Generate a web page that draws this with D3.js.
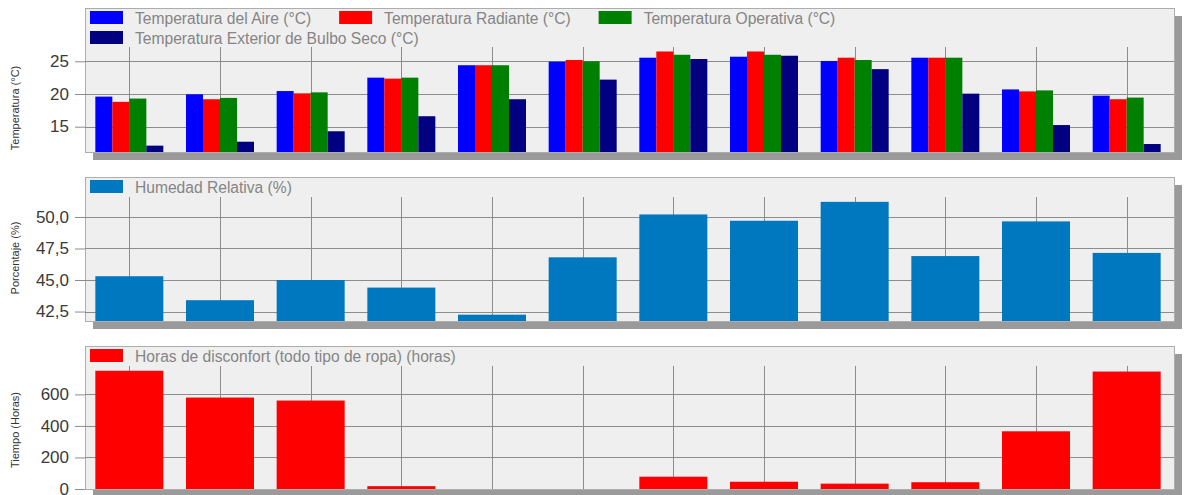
<!DOCTYPE html>
<html>
<head>
<meta charset="utf-8">
<script src="https://cdn.jsdelivr.net/npm/d3@7"></script>
<style>
  body { margin: 0; background: #fff; }
  svg { display: block; font-family: "Liberation Sans", Arial, sans-serif; }
</style>
</head>
<body>
<script>
// months (no x labels are shown in the original)
var months = ["Ene", "Feb", "Mar", "Abr", "May", "Jun", "Jul", "Ago", "Sep", "Oct", "Nov", "Dic"];

// panel 1 - temperatures (°C)
var tempAire      = [19.6, 19.95, 20.45, 22.5, 24.4, 24.95, 25.55, 25.7, 25.05, 25.55, 20.7, 19.75];
var tempRadiante  = [18.8, 19.2, 20.1, 22.35, 24.4, 25.2, 26.5, 26.5, 25.55, 25.55, 20.4, 19.2];
var tempOperativa = [19.3, 19.4, 20.25, 22.5, 24.4, 25.0, 26.0, 26.0, 25.2, 25.55, 20.55, 19.45];
var tempExterior  = [12.1, 12.7, 14.3, 16.6, 19.2, 22.2, 25.35, 25.85, 23.8, 20.05, 15.25, 12.35];
var tempTicks = [15, 20, 25];

// panel 2 - relative humidity (%)
var humedad = [45.3, 43.4, 45.0, 44.4, 42.25, 46.8, 50.2, 49.7, 51.2, 46.9, 49.65, 47.15];
var humTicks = [42.5, 45.0, 47.5, 50.0];

// panel 3 - discomfort hours
var horasDisconfort = [750, 580, 561, 18, 0, 0, 78, 46, 34, 43, 366, 745];
var horasTicks = [0, 200, 400, 600];

var W = 1187, H = 495;
var left = 85, right = 1174;

var svg = d3.select("body").append("svg")
    .attr("width", W)
    .attr("height", H);

var x0 = d3.scaleBand()
    .domain(months)
    .range([84, 1172])
    .paddingInner(0.25)
    .paddingOuter(0.125);

var commaFmt = d3.formatLocale({decimal: ",", thousands: ".", grouping: [3], currency: ["", ""]}).format(".1f");

function drawPanel(p) {
    var g = svg.append("g");
    var y = d3.scaleLinear().domain(p.domain).range([p.bottom, p.top]);

    // shadow + frame
    g.append("rect")
        .attr("x", left + 8).attr("y", p.top + 8)
        .attr("width", right - left).attr("height", p.bottom - p.top)
        .attr("fill", "#9a9a9a");
    g.append("rect")
        .attr("x", left + 0.5).attr("y", p.top + 0.5)
        .attr("width", right - left).attr("height", p.bottom - p.top)
        .attr("fill", "#efefef")
        .attr("stroke", "#adadad")
        .attr("stroke-width", 1);

    // horizontal grid
    g.selectAll(".hgrid")
        .data(p.ticks.filter(function (t) { return y(t) < p.bottom - 1; }))
        .enter().append("line")
        .attr("x1", left).attr("x2", right)
        .attr("y1", function (d) { return Math.round(y(d)) + 0.5; })
        .attr("y2", function (d) { return Math.round(y(d)) + 0.5; })
        .attr("stroke", "#8c8c8c");

    // vertical grid at category centers
    g.selectAll(".vgrid")
        .data(months)
        .enter().append("line")
        .attr("x1", function (d) { return Math.round(x0(d) + x0.bandwidth() / 2) + 0.5; })
        .attr("x2", function (d) { return Math.round(x0(d) + x0.bandwidth() / 2) + 0.5; })
        .attr("y1", p.gridTop).attr("y2", p.bottom)
        .attr("stroke", "#8c8c8c");

    // y axis
    var axis = d3.axisLeft(y).tickValues(p.ticks).tickSize(10).tickPadding(6);
    if (p.format) axis.tickFormat(p.format);
    var ax = g.append("g")
        .attr("transform", "translate(" + left + ",0)")
        .call(axis);
    ax.select(".domain").remove();
    ax.selectAll(".tick line").attr("stroke", "#8c8c8c");
    ax.selectAll(".tick text")
        .attr("fill", "#3a3a3a")
        .attr("dy", "0.3em")
        .style("font-size", "17px");

    // y title
    g.append("text")
        .attr("transform", "translate(19," + p.titleY + ") rotate(-90)")
        .attr("text-anchor", "middle")
        .attr("fill", "#333")
        .style("font-size", "11px")
        .text(p.title);

    // bars
    var x1 = d3.scaleBand()
        .domain(d3.range(p.series.length))
        .range([0, x0.bandwidth()]);

    p.series.forEach(function (s, si) {
        g.selectAll(".bar" + si)
            .data(s.values)
            .enter().append("rect")
            .attr("x", function (d, i) { return x0(months[i]) + x1(si); })
            .attr("width", x1.bandwidth())
            .attr("y", function (d) { return y(Math.max(d, p.domain[0])); })
            .attr("height", function (d) { return p.bottom - y(Math.max(d, p.domain[0])); })
            .attr("fill", s.color);
    });

    // legend
    var lx = 90, ly = p.top + 3;
    p.series.forEach(function (s, si) {
        if (s.newRow) { lx = 90; ly += 20; }
        g.append("rect")
            .attr("x", lx).attr("y", ly)
            .attr("width", 33).attr("height", 13)
            .attr("fill", s.color);
        var t = g.append("text")
            .attr("x", lx + 45).attr("y", ly + 13)
            .attr("fill", "#858585")
            .style("font-size", "15.6px")
            .text(s.name);
        lx = lx + 45 + t.node().getComputedTextLength() + 28;
    });
}

drawPanel({
    top: 8, bottom: 152, gridTop: 47,
    domain: [11.13, 33.15],
    ticks: tempTicks,
    title: "Temperatura (°C)", titleY: 108,
    series: [
        {name: "Temperatura del Aire (°C)", values: tempAire, color: "#0000ff"},
        {name: "Temperatura Radiante (°C)", values: tempRadiante, color: "#ff0000"},
        {name: "Temperatura Operativa (°C)", values: tempOperativa, color: "#008000"},
        {name: "Temperatura Exterior de Bulbo Seco (°C)", values: tempExterior, color: "#000080", newRow: true}
    ]
});

drawPanel({
    top: 177, bottom: 321, gridTop: 197,
    domain: [41.75, 53.17],
    ticks: humTicks, format: commaFmt,
    title: "Porcentaje (%)", titleY: 258,
    series: [
        {name: "Humedad Relativa (%)", values: humedad, color: "#0078bf"}
    ]
});

drawPanel({
    top: 346, bottom: 489, gridTop: 366,
    domain: [0, 907],
    ticks: horasTicks,
    title: "Tiempo (Horas)", titleY: 430,
    series: [
        {name: "Horas de disconfort (todo tipo de ropa) (horas)", values: horasDisconfort, color: "#ff0000"}
    ]
});
</script>
</body>
</html>
